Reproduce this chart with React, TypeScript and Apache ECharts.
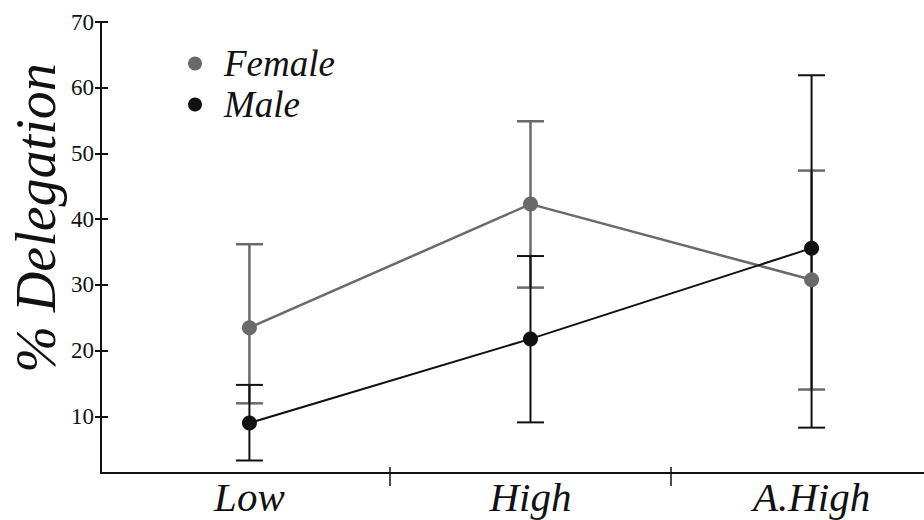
import React, { useEffect, useRef } from "react";
import * as echarts from "echarts";

const categories = ["Low", "High", "A.High"];
const femaleMean = [23.5, 42.3, 30.8];
const femaleLow = [12.0, 29.6, 14.1];
const femaleHigh = [36.2, 54.9, 47.4];
const maleMean = [9.0, 21.8, 35.6];
const maleLow = [3.3, 9.1, 8.3];
const maleHigh = [14.8, 34.4, 61.9];
const yTicks = [10, 20, 30, 40, 50, 60, 70];
const xLabelPos = [0, 1, 2];
const xTickPos = [0.5, 1.5];

const GRAY = "#6a6a6a";
const BLACK = "#111111";
const SERIF = "Liberation Serif";

function errorSeries(name: string, lows: number[], highs: number[], color: string, width: number, z: number) {
  return {
    type: "custom",
    name,
    z,
    silent: true,
    data: lows.map((l, i) => [i, l, highs[i]]),
    encode: { x: 0, y: [1, 2] },
    renderItem: (params: any, api: any) => {
      const x = api.value(0);
      const lo = api.coord([x, api.value(1)]);
      const hi = api.coord([x, api.value(2)]);
      const half = 13.5;
      const style = { stroke: color, lineWidth: width };
      return {
        type: "group",
        children: [
          { type: "line", shape: { x1: lo[0], y1: lo[1], x2: hi[0], y2: hi[1] }, style },
          { type: "line", shape: { x1: lo[0] - half, y1: lo[1], x2: lo[0] + half, y2: lo[1] }, style },
          { type: "line", shape: { x1: hi[0] - half, y1: hi[1], x2: hi[0] + half, y2: hi[1] }, style },
        ],
      };
    },
  };
}

export default function App() {
  const ref = useRef<HTMLDivElement>(null);
  useEffect(() => {
    if (!ref.current) return;
    const chart = echarts.init(ref.current, null, { renderer: "svg" });
    const yMin = 1.4;
    const yMax = 70;
    const xMin = -0.528;
    const xMax = 2.4;
    chart.setOption({
      animation: false,
      backgroundColor: "#ffffff",
      grid: { left: 101, right: 0, top: 22, bottom: 47, containLabel: false },
      legend: {
        data: ["Female", "Male"],
        orient: "vertical",
        left: 183,
        top: 40,
        icon: "circle",
        itemWidth: 14,
        itemHeight: 14,
        itemGap: 4,
        textStyle: {
          fontSize: 37,
          lineHeight: 37,
          fontStyle: "italic",
          fontFamily: SERIF,
          color: BLACK,
          padding: [0, 0, 0, 17],
        },
      },
      xAxis: [
        {
          type: "value",
          min: xMin,
          max: xMax,
          splitLine: { show: false },
          axisLine: { show: true, onZero: false, lineStyle: { color: BLACK, width: 2 } },
          axisTick: { show: true, inside: false, length: 13, customValues: xTickPos, lineStyle: { color: BLACK, width: 1.5 } },
          axisLabel: {
            customValues: xLabelPos,
            formatter: (v: number) => categories[Math.round(v)] ?? "",
            fontSize: 41,
            lineHeight: 42,
            fontStyle: "italic",
            fontFamily: SERIF,
            color: BLACK,
            margin: 3,
          },
        },
        {
          type: "value",
          min: xMin,
          max: xMax,
          position: "bottom",
          splitLine: { show: false },
          axisLine: { show: false, onZero: false },
          axisTick: { show: true, inside: true, length: 6, customValues: xTickPos, lineStyle: { color: BLACK, width: 1.5 } },
          axisLabel: { show: false },
        },
      ],
      yAxis: [
        {
          type: "value",
          min: yMin,
          max: yMax,
          position: "left",
          splitLine: { show: false },
          axisLine: { show: true, onZero: false, lineStyle: { color: BLACK, width: 2 } },
          axisTick: { show: true, inside: false, length: 6, customValues: yTicks, lineStyle: { color: BLACK, width: 2 } },
          axisLabel: {
            customValues: yTicks,
            fontSize: 23,
            fontFamily: SERIF,
            color: BLACK,
            margin: 7,
          },
        },
        {
          type: "value",
          min: yMin,
          max: yMax,
          position: "left",
          splitLine: { show: false },
          axisLine: { show: false, onZero: false },
          axisTick: { show: true, inside: true, length: 7, customValues: yTicks, lineStyle: { color: BLACK, width: 2 } },
          axisLabel: { show: false },
        },
      ],
      graphic: [
        {
          type: "text",
          x: 36,
          y: 218,
          rotation: Math.PI / 2,
          style: {
            text: "% Delegation",
            fontSize: 56,
            fontStyle: "italic",
            fontFamily: SERIF,
            fill: BLACK,
            textAlign: "center",
            textVerticalAlign: "middle",
          },
        },
      ],
      series: [
        errorSeries("Female SE", femaleLow, femaleHigh, GRAY, 2.5, 1),
        errorSeries("Male SE", maleLow, maleHigh, BLACK, 2, 2),
        {
          type: "line",
          name: "Female",
          z: 3,
          data: femaleMean.map((v, i) => [i, v]),
          symbol: "circle",
          symbolSize: 15,
          itemStyle: { color: GRAY },
          lineStyle: { color: GRAY, width: 2.5 },
        },
        {
          type: "line",
          name: "Male",
          z: 4,
          data: maleMean.map((v, i) => [i, v]),
          symbol: "circle",
          symbolSize: 15,
          itemStyle: { color: BLACK },
          lineStyle: { color: BLACK, width: 2 },
        },
      ],
    });
    return () => chart.dispose();
  }, []);
  return (
    <div
      ref={ref}
      style={{ position: "fixed", left: 0, top: 0, width: 924, height: 520, background: "#fff" }}
    />
  );
}
